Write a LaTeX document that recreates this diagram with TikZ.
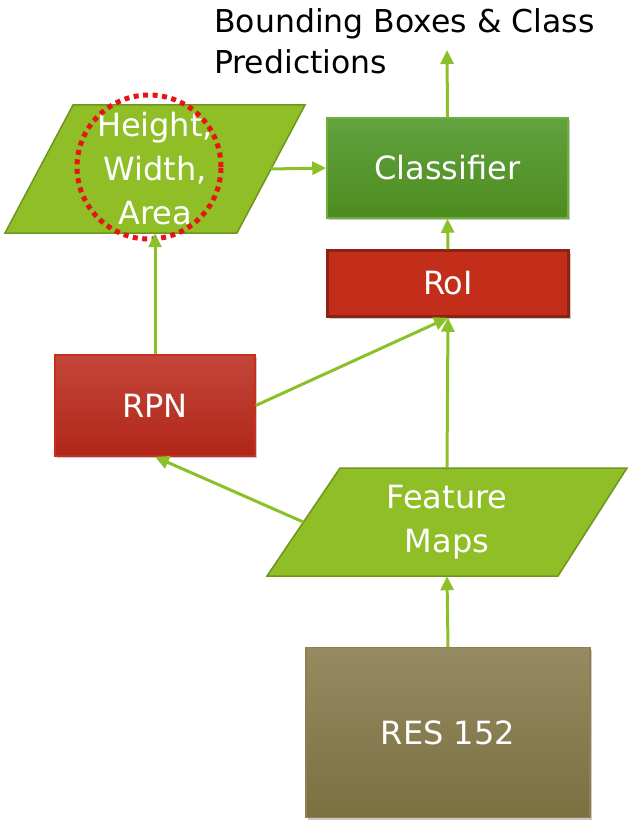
\documentclass[tikz,border=0pt]{standalone}
\usepackage{fontspec}
\setmainfont{DejaVu Sans}
\usetikzlibrary{arrows.meta,shadows}
\definecolor{pgreen}{RGB}{143,190,38}
\definecolor{pgreenb}{RGB}{110,150,30}
\definecolor{agreen}{RGB}{140,192,40}
\definecolor{clstop}{RGB}{98,162,64}
\definecolor{clsbot}{RGB}{76,140,30}
\definecolor{clsb}{RGB}{110,175,60}
\definecolor{roif}{RGB}{195,46,26}
\definecolor{roib}{RGB}{140,34,18}
\definecolor{rpntop}{RGB}{196,70,58}
\definecolor{rpnbot}{RGB}{176,38,24}
\definecolor{rpnb}{RGB}{200,48,30}
\definecolor{restop}{RGB}{150,138,98}
\definecolor{resbot}{RGB}{122,112,64}
\definecolor{resb}{RGB}{140,128,82}
\definecolor{hlred}{RGB}{230,20,20}
\tikzset{
  boxtext/.style={text=white,font=\fontsize{32}{44}\selectfont,align=center,inner sep=0pt},
  sbox/.style={rectangle,boxtext,line width=1.5pt,drop shadow={shadow xshift=2pt,shadow yshift=-2pt,opacity=0.35,fill=black!60}},
  para/.style={fill=pgreen,draw=pgreenb,line width=1.5pt},
  conn/.style={draw=agreen,line width=3pt,-{Triangle[length=14pt,width=13pt]}},
  title/.style={font=\fontsize{31.5}{40}\selectfont,text=black,inner sep=0pt,anchor=base west}
}
\begin{document}
\begin{tikzpicture}[x=1pt,y=-1pt]
\useasboundingbox (0,0) rectangle (635,829);
% title
\node[title] (t1) at (214,33) {Bounding Boxes \& Class};
\node[title] (t2) at (214,74) {Predictions};
\coordinate (out) at (447,50);
% parallelograms
\draw[para] (73,105) -- (305,105) -- (237,233) -- (5,233) -- cycle;
\node[boxtext,minimum width=232pt,minimum height=128pt] (hwa) at (155,169) {Height,\\Width,\\Area};
\draw[para] (340,468) -- (627,468) -- (558,576) -- (267,576) -- cycle;
\node[boxtext,minimum width=287pt,minimum height=108pt] (fm) at (447,522) {Feature\\Maps};
% boxes
\node[sbox,minimum width=241pt,minimum height=100pt,top color=clstop,bottom color=clsbot,draw=clsb] (cls) at (447.5,168) {Classifier};
\node[sbox,minimum width=241pt,minimum height=66pt,fill=roif,draw=roib,line width=2.5pt] (roi) at (448,283.5) {RoI};
\node[sbox,minimum width=200pt,minimum height=101pt,top color=rpntop,bottom color=rpnbot,draw=rpnb] (rpn) at (155,405.5) {RPN};
\node[sbox,minimum width=284pt,minimum height=170pt,top color=restop,bottom color=resbot,draw=resb] (res) at (448,732.5) {RES 152};
% highlight circle
\node[circle,minimum size=144pt,draw=hlred,line width=5pt,dash pattern=on 5pt off 4.5pt] (hl) at (149,167) {};
% connectors
\draw[conn] (res.north) -- (fm.south);
\draw[conn] (fm.north) -- (roi.south);
\draw[conn] (fm.west) -- (rpn.south);
\draw[conn] (rpn.east) -- (roi.south);
\draw[conn] (rpn.north) -- (hwa.south);
\draw[conn] (hwa.east) -- (cls.west);
\draw[conn] (roi.north) -- (cls.south);
\draw[conn] (cls.north) -- (out);
\end{tikzpicture}
\end{document}
